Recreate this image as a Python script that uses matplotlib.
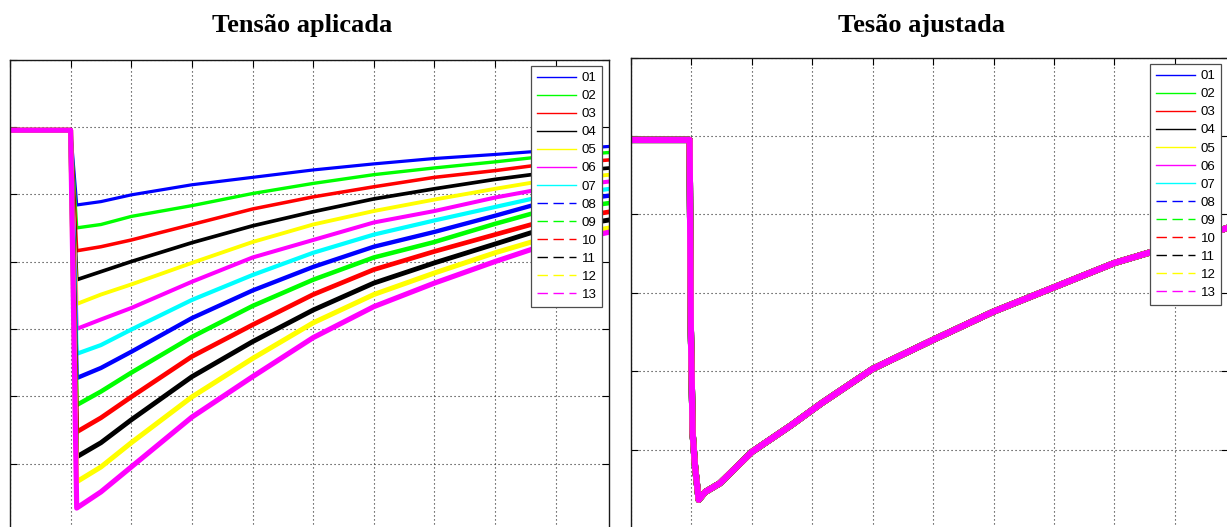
import matplotlib
matplotlib.use("Agg")
import matplotlib.pyplot as plt
from matplotlib.lines import Line2D

t_aplicada = [0, 1.0, 1.10, 1.5, 2, 3, 4, 5, 6, 7, 8, 8.6, 9.9]
nivel = 5.95  # patamar antes do degrau

# tensao aplicada, ensaios 01..13
v01 = [nivel, nivel, 4.84, 4.89, 4.99, 5.14, 5.25, 5.36, 5.45, 5.53, 5.59, 5.63, 5.71]
v02 = [nivel, nivel, 4.50, 4.55, 4.67, 4.83, 5.01, 5.16, 5.29, 5.39, 5.48, 5.54, 5.62]
v03 = [nivel, nivel, 4.16, 4.22, 4.32, 4.55, 4.78, 4.96, 5.11, 5.25, 5.35, 5.42, 5.51]
v04 = [nivel, nivel, 3.73, 3.85, 4.00, 4.28, 4.53, 4.74, 4.93, 5.08, 5.22, 5.29, 5.39]
v05 = [nivel, nivel, 3.37, 3.51, 3.66, 3.98, 4.29, 4.55, 4.75, 4.92, 5.08, 5.17, 5.29]
v06 = [nivel, nivel, 3.00, 3.14, 3.31, 3.70, 4.06, 4.32, 4.58, 4.75, 4.95, 5.05, 5.19]
v07 = [nivel, nivel, 2.63, 2.76, 2.99, 3.43, 3.80, 4.13, 4.40, 4.61, 4.81, 4.93, 5.08]
v08 = [nivel, nivel, 2.27, 2.42, 2.66, 3.16, 3.57, 3.92, 4.22, 4.44, 4.68, 4.83, 4.98]
v09 = [nivel, nivel, 1.87, 2.07, 2.35, 2.88, 3.34, 3.73, 4.06, 4.29, 4.56, 4.71, 4.87]
v10 = [nivel, nivel, 1.47, 1.68, 1.99, 2.59, 3.06, 3.51, 3.88, 4.15, 4.40, 4.55, 4.74]
v11 = [nivel, nivel, 1.10, 1.31, 1.65, 2.29, 2.81, 3.28, 3.68, 3.98, 4.26, 4.43, 4.62]
v12 = [nivel, nivel, 0.73, 0.95, 1.31, 1.99, 2.56, 3.09, 3.51, 3.83, 4.13, 4.29, 4.50]
v13 = [nivel, nivel, 0.34, 0.58, 0.95, 1.69, 2.29, 2.87, 3.33, 3.68, 4.00, 4.18, 4.44]
aplicada = [v01, v02, v03, v04, v05, v06, v07, v08, v09, v10, v11, v12, v13]

# tensao ajustada: os 13 ensaios ficam praticamente iguais
t_ajustada = [0, 0.97, 0.99, 1.02, 1.06, 1.12, 1.23, 1.47, 2.0, 2.65, 3.15,
              4, 5, 6, 7, 8, 9, 9.88]
v_ajustada = [4.95, 4.95, 2.56, 1.21, 0.78, 0.36, 0.46, 0.57, 0.97, 1.31, 1.59,
              2.03, 2.40, 2.76, 3.07, 3.38, 3.61, 3.83]

rotulos = ['%02d' % i for i in range(1, 14)]
cores = ['#0000ff', '#00ff00', '#ff0000', '#000000', '#ffff00', '#ff00ff', '#00ffff',
         '#0000ff', '#00ff00', '#ff0000', '#000000', '#ffff00', '#ff00ff']
estilos = ['-'] * 7 + ['--'] * 6

fig = plt.figure(figsize=(12.27, 5.27), dpi=100)
W, H = 1227.0, 527.0
ax1 = fig.add_axes([10 / W, 1 - 598.3 / H, 599 / W, 538.8 / H])
ax2 = fig.add_axes([631 / W, 1 - 606.4 / H, 597 / W, 548.8 / H])


def formata(ax, ymin, ymax):
    ax.set_xlim(0, 9.88)
    ax.set_ylim(ymin, ymax)
    ax.set_xticks(range(0, 10))
    ax.set_yticks(range(ymin, ymax + 1))
    ax.tick_params(direction='in', length=5, width=0.8, top=True, right=True,
                   labelbottom=False, labelleft=False)
    ax.grid(True, color='0.15', linestyle=(0, (1, 2.6)), linewidth=0.8)
    for s in ax.spines.values():
        s.set_color('0.1')
        s.set_linewidth(1.0)


def legenda(ax):
    h = [Line2D([], [], color=c, lw=1.0, linestyle=e,
                dashes=(7.5, 4) if e == '--' else (None, None))
         for c, e in zip(cores, estilos)]
    leg = ax.legend(h, rotulos, loc='upper right', fancybox=False, framealpha=1,
                    edgecolor='0.3', handlelength=3.0, handletextpad=0.4,
                    labelspacing=0.44, borderpad=0.45, borderaxespad=0.5,
                    prop={'family': 'Liberation Sans', 'size': 9.5})
    leg.get_frame().set_linewidth(0.9)


# curvas mais profundas sao mais ruidosas, por isso um traco mais grosso
for i, (v, c) in enumerate(zip(aplicada, cores)):
    ax1.plot(t_aplicada, v, color=c, lw=2.3 + 0.12 * i)
formata(ax1, -1, 7)
legenda(ax1)

for c in cores:
    ax2.plot(t_ajustada, v_ajustada, color=c, lw=4.5)
formata(ax2, -1, 6)
legenda(ax2)

titulo = dict(fontsize=19, fontweight='bold', family='Liberation Serif',
              ha='center', va='baseline')
fig.text(302.5 / W, 1 - 32.3 / H, 'Tensão aplicada', **titulo)
fig.text(922 / W, 1 - 32.3 / H, 'Tesão ajustada', **titulo)

fig.savefig('out.png', dpi=100)
